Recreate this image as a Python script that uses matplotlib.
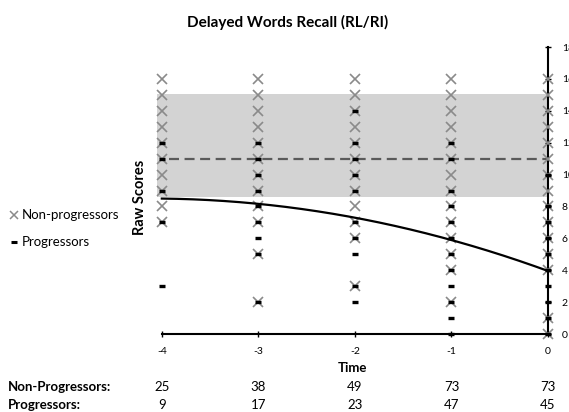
import numpy as np
import matplotlib.pyplot as plt

plt.rcParams['font.family'] = ['Lato', 'DejaVu Sans']

# Raw scores per time point
times = [-4, -3, -2, -1, 0]
nonprog_scores = [
    [16, 15, 14, 13, 12, 11, 10, 9, 8, 7],
    [16, 15, 14, 13, 12, 11, 10, 9, 8, 7, 5, 2],
    [16, 15, 14, 13, 12, 11, 10, 9, 8, 7, 6, 3],
    [16, 15, 14, 13, 12, 11, 10, 9, 8, 7, 6, 5, 4, 2],
    [16, 15, 14, 13, 12, 11, 10, 9, 8, 7, 6, 5, 4, 1, 0],
]
prog_scores = [
    [12, 11, 9, 7, 3],
    [12, 11, 10, 9, 8, 7, 6, 5, 2],
    [14, 12, 11, 10, 9, 7, 6, 5, 3, 2],
    [12, 11, 9, 8, 7, 6, 5, 4, 3, 2, 1, 0],
    [10, 8, 7, 6, 5, 4, 3, 2, 1, 0],
]
# fitted trajectory of progressors at each time point
trend_scores = [8.5, 8.15, 7.3, 5.9, 3.95]
# non-progressor mean and normal range
norm_mean = 11
norm_low, norm_high = 8.6, 15.05
n_nonprog = [25, 38, 49, 73, 73]
n_prog = [9, 17, 23, 47, 45]

fig = plt.figure(figsize=(5.69, 4.12), dpi=100)
ax = fig.add_axes([0.2759, 0.1893, 0.6872, 0.6966])

ax.axhspan(norm_low, norm_high, color='#d3d3d3', lw=0, zorder=0)
ax.axhline(norm_mean, xmin=0.03, color='#5a5a5a', lw=1.6,
           linestyle=(0, (4.5, 2.5)), zorder=1)

for t, sc in zip(times, nonprog_scores):
    ax.plot([t] * len(sc), sc, 'x', color='#8a8a8a', ms=6.5, mew=1.2,
            clip_on=False, zorder=3)
for t, sc in zip(times, prog_scores):
    ax.plot([t] * len(sc), sc, '_', color='black', ms=4, mew=2.4,
            clip_on=False, zorder=4)

# smooth quadratic through the fitted values
coef = np.polyfit(times, trend_scores, 2)
tt = np.linspace(-4, 0, 200)
ax.plot(tt, np.polyval(coef, tt), color='black', lw=1.6, zorder=5)

ax.set_xlim(-4.05, 0)
ax.set_ylim(0, 18)
ax.spines['top'].set_visible(False)
ax.spines['left'].set_visible(False)
ax.spines['bottom'].set_bounds(-4, 0)
ax.spines['bottom'].set_linewidth(1.5)
ax.spines['right'].set_linewidth(1.5)
ax.yaxis.tick_right()
ax.set_xticks(times)
ax.set_xticklabels([str(t) for t in times])
ax.set_yticks(range(0, 19, 2))
ax.tick_params(axis='x', direction='inout', length=4, width=1, labelsize=7.5, pad=7)
ax.tick_params(axis='y', direction='inout', length=4, width=1, labelsize=7.5, pad=8)

ax.set_xlabel('Time', fontsize=9.5, fontweight='bold', labelpad=5)
fig.text(0.246, 0.52, 'Raw Scores', rotation=90, fontsize=10.5,
         fontweight='bold', ha='center', va='center')
fig.text(0.505, 0.945, 'Delayed Words Recall (RL/RI)', fontsize=11,
         fontweight='bold', ha='center', va='center')

# legend on the left
fig.lines.append(plt.Line2D([0.025], [0.478], marker='x', color='#8a8a8a',
                            ms=5.5, mew=1.1, transform=fig.transFigure))
fig.lines.append(plt.Line2D([0.025], [0.413], marker='_', color='black',
                            ms=4, mew=2.2, transform=fig.transFigure))
fig.text(0.038, 0.478, 'Non-progressors', fontsize=9.5, va='center')
fig.text(0.038, 0.413, 'Progressors', fontsize=9.5, va='center')

# sample sizes under the axis
fig.text(0.014, 0.06, 'Non-Progressors:', fontsize=9.5, fontweight='bold', va='center')
fig.text(0.014, 0.016, 'Progressors:', fontsize=9.5, fontweight='bold', va='center')
for t, a, b in zip(times, n_nonprog, n_prog):
    xf = ax.transData.transform((t, 0))[0] / fig.bbox.width
    fig.text(xf, 0.06, str(a), fontsize=9.5, ha='center', va='center')
    fig.text(xf, 0.016, str(b), fontsize=9.5, ha='center', va='center')

fig.savefig('out.png', dpi=100)
